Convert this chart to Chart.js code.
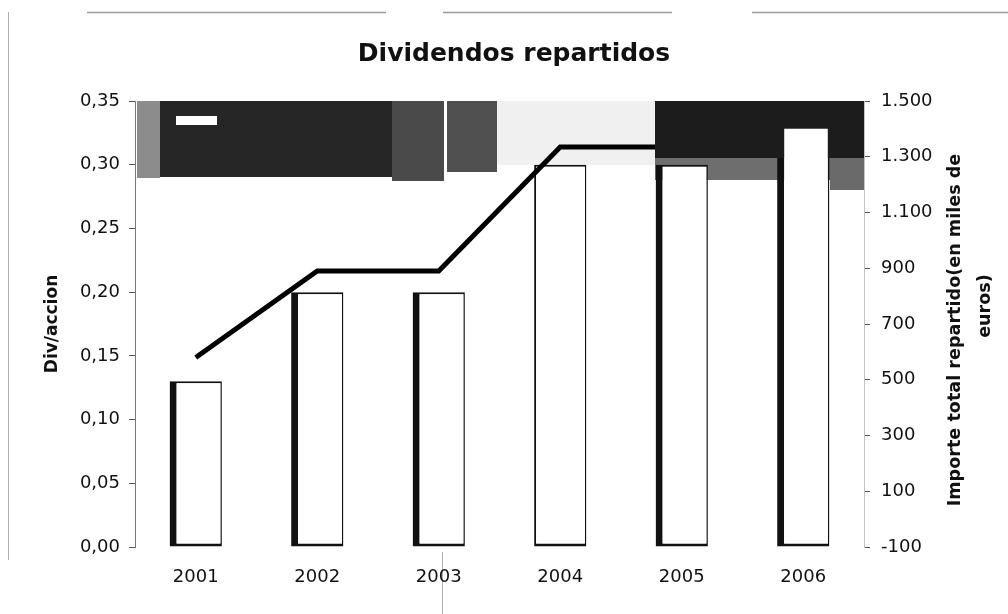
<!DOCTYPE html>
<html><head><meta charset="utf-8">
<script src="https://cdn.jsdelivr.net/npm/chart.js@4.4.1/dist/chart.umd.min.js"></script>
<style>html,body{margin:0;padding:0;background:#fff;}canvas{display:block;}</style>
</head><body>
<canvas id="c" width="1008" height="614"></canvas>
<script>
const years = ['2001', '2002', '2003', '2004', '2005', '2006'];
const divPorAccion = [0.13, 0.20, 0.20, 0.30, 0.30, 0.33];
const importeTotal = [580, 890, 890, 1335, 1335, 1465];
const leftTicks = [0, 0.05, 0.10, 0.15, 0.20, 0.25, 0.30, 0.35];
const rightTicks = [-100, 100, 300, 500, 700, 900, 1100, 1300, 1500];
const chartTitle = 'Dividendos repartidos';
const leftTitle = 'Div/accion';
const rightTitle = ['Importe total repartido(en miles de', 'euros)'];

const FONT = "'DejaVu Sans', sans-serif";

const decor = {
  id: 'decor',
  beforeDraw(chart) {
    const ctx = chart.ctx;
    ctx.save();
    ctx.fillStyle = '#fff';
    ctx.fillRect(0, 0, chart.width, chart.height);
    ctx.strokeStyle = '#9a9a9a';
    ctx.lineWidth = 1.5;
    [[87, 386], [443, 672], [752, 1008]].forEach(([a, b]) => {
      ctx.beginPath(); ctx.moveTo(a, 12.5); ctx.lineTo(b, 12.5); ctx.stroke();
    });
    ctx.lineWidth = 1;
    ctx.strokeStyle = '#b0b0b0';
    ctx.beginPath(); ctx.moveTo(8.5, 12); ctx.lineTo(8.5, 560); ctx.stroke();
    ctx.beginPath(); ctx.moveTo(442.5, 552); ctx.lineTo(442.5, 614); ctx.stroke();
    ctx.restore();
  },
  beforeDatasetsDraw(chart) {
    const ctx = chart.ctx;
    const top = chart.chartArea.top;
    ctx.save();
    const rects = [
      ['#8c8c8c', 137, 160, 178],
      ['#262626', 160, 392, 177],
      ['#4a4a4a', 392, 444, 181],
      ['#505050', 447, 497, 172],
      ['#f0f0f0', 497, 655, 165],
      ['#6e6e6e', 655, 780, 180],
      ['#5a5a5a', 780, 864, 180],
      ['#6a6a6a', 830, 864, 190]
    ];
    rects.forEach(([c, x0, x1, yb]) => {
      ctx.fillStyle = c;
      ctx.fillRect(x0, top, x1 - x0, yb - top);
    });
    ctx.fillStyle = '#ffffff';
    ctx.fillRect(176, 116, 41, 9);
    ctx.restore();
  },
  afterDatasetsDraw(chart) {
    const ctx = chart.ctx;
    const top = chart.chartArea.top;
    const bandBottom = 158;
    const meta = chart.getDatasetMeta(1);
    const el = meta.data[meta.data.length - 1];
    ctx.save();
    ctx.beginPath();
    ctx.rect(655, top, 864 - 655, bandBottom - top);
    ctx.clip();
    ctx.beginPath();
    ctx.rect(655, top, 864 - 655, bandBottom - top);
    if (el) {
      const x0 = el.x - el.width / 2 + 7, x1 = el.x + el.width / 2 - 1.5;
      const y0 = el.y + 2;
      ctx.rect(x1, y0, x0 - x1, bandBottom - y0);
    }
    ctx.fillStyle = '#1c1c1c';
    ctx.fill('evenodd');
    ctx.restore();
  },
  afterDraw(chart) {
    const ctx = chart.ctx;
    ctx.save();
    ctx.fillStyle = '#111';
    ctx.textAlign = 'center';
    ctx.textBaseline = 'alphabetic';
    ctx.font = "bold 25px " + FONT;
    ctx.fillText(chartTitle, 514, 61);
    ctx.font = "bold 15px " + FONT;
    const w = ctx.measureText(rightTitle[0]).width;
    const size = Math.max(12, Math.min(20, 15 * 352 / w));
    ctx.font = "bold " + size.toFixed(1) + "px " + FONT;
    ctx.textBaseline = 'middle';
    ctx.save();
    ctx.translate(955, 330);
    ctx.rotate(-Math.PI / 2);
    ctx.fillText(rightTitle[0], 0, 0);
    ctx.restore();
    ctx.save();
    ctx.translate(985, 306);
    ctx.rotate(-Math.PI / 2);
    ctx.fillText(rightTitle[1], 0, 0);
    ctx.restore();
    ctx.restore();
  }
};

const fmtLeft = v => Number(v).toFixed(2).replace('.', ',');
const fmtRight = v => {
  const n = Math.round(v);
  const s = Math.abs(n).toString().replace(/\B(?=(\d{3})+(?!\d))/g, '.');
  return (n < 0 ? '-' : '') + s;
};

new Chart(document.getElementById('c'), {
  type: 'bar',
  data: {
    labels: years,
    datasets: [
      {
        type: 'line',
        label: 'Importe total repartido',
        data: importeTotal,
        yAxisID: 'y1',
        borderColor: '#000',
        borderWidth: 5,
        pointRadius: 0,
        tension: 0,
        fill: false,
        order: 0
      },
      {
        type: 'bar',
        label: 'Div/accion',
        data: divPorAccion,
        yAxisID: 'y',
        backgroundColor: '#ffffff',
        borderColor: '#111',
        borderSkipped: false,
        borderWidth: ctx => ({
          left: ctx.dataIndex === 3 ? 2 : 7,
          top: 2,
          right: 1.5,
          bottom: 3
        }),
        categoryPercentage: 1,
        barPercentage: 0.43,
        order: 1
      }
    ]
  },
  options: {
    responsive: false,
    animation: false,
    devicePixelRatio: 1,
    layout: { padding: { left: 38, top: 101, right: 0, bottom: 0 } },
    plugins: {
      legend: { display: false },
      title: { display: false },
      tooltip: { enabled: false }
    },
    scales: {
      x: {
        grid: { display: false, drawTicks: false },
        border: { display: false },
        ticks: { color: '#111', font: { family: FONT, size: 18 }, padding: 20, maxRotation: 0 },
        afterFit(s) { s.height = 67; }
      },
      y: {
        position: 'left',
        min: 0,
        max: 0.35,
        afterBuildTicks(s) { s.ticks = leftTicks.map(v => ({ value: v })); },
        grid: { drawOnChartArea: false, drawTicks: true, tickLength: 6, color: '#555' },
        border: { display: true, color: '#777', width: 1 },
        ticks: { color: '#111', font: { family: FONT, size: 18 }, padding: 9, callback: v => fmtLeft(v) },
        title: { display: true, text: leftTitle, color: '#111', font: { family: FONT, size: 17, weight: 'bold' }, padding: { top: 4, bottom: 4 } },
        afterFit(s) { s.width = 97; }
      },
      y1: {
        position: 'right',
        min: -100,
        max: 1500,
        afterBuildTicks(s) { s.ticks = rightTicks.map(v => ({ value: v })); },
        grid: { drawOnChartArea: false, drawTicks: true, tickLength: 6, color: '#555' },
        border: { display: true, color: '#c4c4c4', width: 1, dash: [3, 4] },
        ticks: { color: '#111', font: { family: FONT, size: 18 }, padding: 11, callback: v => fmtRight(v) },
        afterFit(s) { s.width = 144; }
      }
    }
  },
  plugins: [decor]
});
</script>
</body></html>
